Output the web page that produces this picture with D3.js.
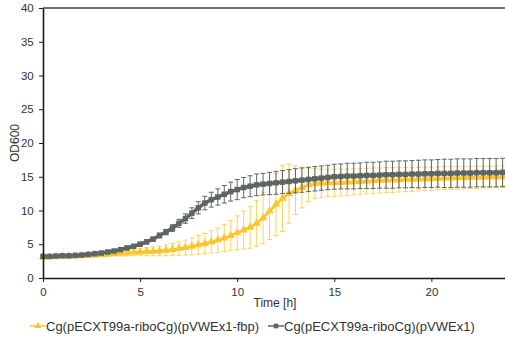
<!DOCTYPE html>
<html>
  <head>
    <meta charset="utf-8"/>
    <title>OD600 growth</title>
    <script src="https://cdnjs.cloudflare.com/ajax/libs/d3/7.8.5/d3.min.js"></script>
    <style>
      body { margin: 0; background: #fff; }
      text { font-family: "Liberation Sans", Arial, sans-serif; fill: #333; }
    </style>
  </head>
  <body>
    <script>

      // sampling time in minutes (every 20 min)
      var timeMin = [0,20,40,60,80,100,120,140,160,180,200,220,240,260,280,300,320,340,360,380,400,420,440,460,480,
        500,520,540,560,580,600,620,640,660,680,700,720,740,760,780,800,820,840,860,880,900,920,940,960,980,
        1000,1020,1040,1060,1080,1100,1120,1140,1160,1180,1200,1220,1240,1260,1280,1300,1320,1340,1360,1380,1400,1420,1440];

      // Cg(pECXT99a-riboCg)(pVWEx1-fbp)
      var fbpMean = [3.1,3.1,3.15,3.2,3.2,3.25,3.3,3.35,3.4,3.45,3.5,3.6,3.65,3.7,3.8,3.85,3.9,3.95,4.0,4.1,4.2,4.35,4.5,4.7,4.9,
        5.1,5.35,5.6,5.9,6.3,6.7,7.1,7.5,8.1,8.9,9.9,10.9,11.8,12.5,13.0,13.4,13.8,14.0,14.05,14.1,14.1,14.15,14.2,14.25,14.3,
        14.35,14.4,14.45,14.5,14.5,14.55,14.6,14.6,14.65,14.7,14.7,14.75,14.8,14.8,14.85,14.85,14.9,14.9,14.95,14.95,15.0,15.0,15.0];
      var fbpSd = [0.25,0.25,0.25,0.25,0.25,0.25,0.25,0.3,0.3,0.3,0.35,0.35,0.4,0.45,0.5,0.55,0.6,0.65,0.7,0.8,0.9,1.0,1.1,1.25,1.4,
        1.5,1.65,1.8,2.0,2.2,2.5,2.8,3.1,3.4,3.8,4.2,4.6,4.9,4.4,3.6,3.0,2.5,2.2,2.1,2.0,2.0,2.0,1.95,1.95,1.9,
        1.9,1.9,1.85,1.85,1.85,1.8,1.8,1.8,1.75,1.75,1.75,1.7,1.7,1.7,1.7,1.65,1.65,1.65,1.6,1.6,1.6,1.6,1.6];

      // Cg(pECXT99a-riboCg)(pVWEx1)
      var ctrlMean = [3.2,3.2,3.25,3.3,3.3,3.35,3.4,3.5,3.6,3.7,3.85,4.0,4.2,4.45,4.7,5.0,5.35,5.75,6.3,6.8,7.4,8.1,8.8,9.6,10.4,
        11.1,11.6,12.0,12.4,12.8,13.1,13.4,13.6,13.8,13.9,14.0,14.1,14.2,14.3,14.4,14.5,14.6,14.7,14.8,14.9,15.0,15.05,15.1,15.1,15.15,
        15.2,15.2,15.25,15.3,15.3,15.35,15.35,15.4,15.4,15.45,15.45,15.5,15.5,15.5,15.55,15.55,15.55,15.6,15.6,15.6,15.6,15.65,15.65];
      var ctrlSd = [0.2,0.2,0.2,0.2,0.2,0.2,0.2,0.2,0.2,0.2,0.2,0.2,0.25,0.25,0.25,0.3,0.3,0.3,0.35,0.4,0.5,0.6,0.7,0.8,0.9,
        1.0,1.1,1.2,1.3,1.4,1.5,1.5,1.55,1.6,1.6,1.65,1.7,1.7,1.75,1.8,1.8,1.8,1.8,1.8,1.8,1.85,1.85,1.9,1.9,1.9,
        1.95,1.95,1.95,2.0,2.0,2.0,2.0,2.0,2.05,2.05,2.05,2.05,2.1,2.1,2.1,2.1,2.1,2.1,2.1,2.1,2.1,2.1,2.1];

      var xTicks = [0, 5, 10, 15, 20];
      var yTicks = [0, 5, 10, 15, 20, 25, 30, 35, 40];
      var seriesNames = ["Cg(pECXT99a-riboCg)(pVWEx1-fbp)", "Cg(pECXT99a-riboCg)(pVWEx1)"];

      var width = 505, height = 341;
      var plotLeft = 43, plotTop = 8, plotBottom = 278;

      var svg = d3.select("body").append("svg")
        .attr("width", width)
        .attr("height", height);

      var x = d3.scaleLinear().domain([0, 24]).range([plotLeft, plotLeft + 24 * 19.42]);
      var y = d3.scaleLinear().domain([0, 40]).range([plotBottom, plotTop]);

      function rows(mean, sd) {
        return timeMin.map(function (t, i) { return { t: t / 60, v: mean[i], e: sd[i] }; });
      }

      var series = [
        { name: seriesNames[0], data: rows(fbpMean, fbpSd), color: "#fcc630", bar: "#f9cd45",
          shape: d3.symbolTriangle, size: 30, lw: 2.8 },
        { name: seriesNames[1], data: rows(ctrlMean, ctrlSd), color: "#5d6664", bar: "#474d4c",
          shape: d3.symbolSquare, size: 30, lw: 3.5 }
      ];

      // top frame line
      svg.append("line")
        .attr("x1", plotLeft).attr("x2", width)
        .attr("y1", plotTop).attr("y2", plotTop)
        .attr("stroke", "#404040").attr("stroke-width", 1.5);

      var line = d3.line()
        .x(function (d) { return x(d.t); })
        .y(function (d) { return y(d.v); });

      series.forEach(function (s) {
        var g = svg.append("g");
        var bars = g.selectAll(".eb").data(s.data).enter().append("g")
          .attr("stroke", s.bar).attr("stroke-width", 1)
          .attr("opacity", 0.85);
        bars.append("line")
          .attr("x1", function (d) { return x(d.t); })
          .attr("x2", function (d) { return x(d.t); })
          .attr("y1", function (d) { return y(d.v - d.e); })
          .attr("y2", function (d) { return y(d.v + d.e); });
        [-1, 1].forEach(function (k) {
          bars.append("line")
            .attr("x1", function (d) { return x(d.t) - 2.5; })
            .attr("x2", function (d) { return x(d.t) + 2.5; })
            .attr("y1", function (d) { return y(d.v + k * d.e); })
            .attr("y2", function (d) { return y(d.v + k * d.e); });
        });

        g.append("path").datum(s.data)
          .attr("d", line)
          .attr("fill", "none")
          .attr("stroke", s.color)
          .attr("stroke-width", s.lw);

        g.selectAll(".pt").data(s.data).enter().append("path")
          .attr("transform", function (d) { return "translate(" + x(d.t) + "," + y(d.v) + ")"; })
          .attr("d", d3.symbol().type(s.shape).size(s.size))
          .attr("fill", s.color);
      });

      // axes
      var xAxis = svg.append("g")
        .attr("transform", "translate(0," + plotBottom + ")")
        .call(d3.axisBottom(x).tickValues(xTicks).tickSize(4).tickSizeOuter(0));
      var yAxis = svg.append("g")
        .attr("transform", "translate(" + plotLeft + ",0)")
        .call(d3.axisLeft(y).tickValues(yTicks).tickSize(4).tickSizeOuter(0));

      [xAxis, yAxis].forEach(function (a) {
        a.select(".domain").attr("stroke", "#1a1a1a").attr("stroke-width", 1.6);
        a.selectAll(".tick line").attr("stroke", "#1a1a1a");
        a.selectAll("text").attr("font-size", 11.5).attr("fill", "#333")
          .attr("font-family", "Liberation Sans, Arial, sans-serif");
      });
      xAxis.selectAll("text").attr("dy", "0.95em");
      yAxis.selectAll("text").attr("dx", "-0.2em");

      svg.append("text")
        .attr("x", 275).attr("y", 307)
        .attr("text-anchor", "middle")
        .attr("font-size", 12)
        .text("Time [h]");

      svg.append("text")
        .attr("transform", "translate(19,143) rotate(-90)")
        .attr("text-anchor", "middle")
        .attr("font-size", 12)
        .text("OD600");

      // legend
      var legendX = [30, 268];
      series.forEach(function (s, i) {
        var lg = svg.append("g").attr("transform", "translate(" + legendX[i] + ",326)");
        lg.append("line").attr("x1", 0).attr("x2", 16).attr("y1", 0).attr("y2", 0)
          .attr("stroke", s.color).attr("stroke-width", 1.5);
        lg.append("path").attr("transform", "translate(8,0)")
          .attr("d", d3.symbol().type(s.shape).size(22)).attr("fill", s.color);
        lg.append("text").attr("x", 16).attr("y", 4.5)
          .attr("font-size", 13)
          .text(s.name);
      });

    </script>
  </body>
</html>
